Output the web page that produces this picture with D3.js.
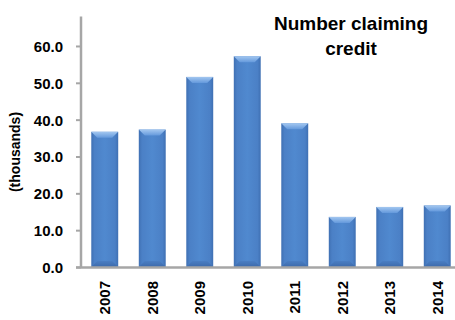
<!DOCTYPE html>
<html>
<head>
<meta charset="utf-8">
<script src="https://cdn.jsdelivr.net/npm/d3@7"></script>
<style>
  body { margin: 0; background: #fff; }
  svg text { font-family: "Liberation Sans", Arial, sans-serif; font-weight: bold; fill: #000; }
</style>
</head>
<body>
<div id="chart"></div>
<script>
var years = ["2007", "2008", "2009", "2010", "2011", "2012", "2013", "2014"];
var claimants = [36.7, 37.3, 51.6, 57.2, 39.0, 13.6, 16.3, 16.7];
var yTicks = [0, 10, 20, 30, 40, 50, 60];
var titleLines = ["Number claiming", "credit"];
var yTitle = "(thousands)";

var width = 455, height = 320;

var svg = d3.select("#chart").append("svg")
  .attr("width", width)
  .attr("height", height);

var defs = svg.append("defs");

var bodyGrad = defs.append("linearGradient").attr("id", "body")
  .attr("x1", 0).attr("x2", 1).attr("y1", 0).attr("y2", 0);
bodyGrad.append("stop").attr("offset", "0").attr("stop-color", "#3f70b3");
bodyGrad.append("stop").attr("offset", "0.12").attr("stop-color", "#4b80c6");
bodyGrad.append("stop").attr("offset", "0.5").attr("stop-color", "#5089cf");
bodyGrad.append("stop").attr("offset", "0.88").attr("stop-color", "#4b80c6");
bodyGrad.append("stop").attr("offset", "1").attr("stop-color", "#3f70b3");

var topGrad = defs.append("linearGradient").attr("id", "topBevel")
  .attr("x1", 0).attr("x2", 0).attr("y1", 0).attr("y2", 1);
topGrad.append("stop").attr("offset", "0").attr("stop-color", "#a3c7f0");
topGrad.append("stop").attr("offset", "1").attr("stop-color", "#6499dc");

var bottomGrad = defs.append("linearGradient").attr("id", "bottomBevel")
  .attr("x1", 0).attr("x2", 0).attr("y1", 0).attr("y2", 1);
bottomGrad.append("stop").attr("offset", "0").attr("stop-color", "#4a7ec3");
bottomGrad.append("stop").attr("offset", "1").attr("stop-color", "#3d6aab");

var x = d3.scaleBand()
  .domain(years)
  .range([81, 461])
  .paddingInner(0.433)
  .paddingOuter(0.2165);

var y = d3.scaleLinear()
  .domain([0, 68])
  .range([267, 16.5]);

// y axis
var yAxis = d3.axisLeft(y)
  .tickValues(yTicks)
  .tickFormat(d3.format(".1f"))
  .tickSize(5)
  .tickPadding(13);

var yG = svg.append("g")
  .attr("transform", "translate(81,0)")
  .call(yAxis);
yG.select(".domain").remove();
yG.selectAll(".tick line").attr("stroke", "#a6a6a6").attr("stroke-width", 2);
yG.selectAll(".tick text")
  .style("font-size", "15px")
  .attr("dy", "0.36em");

svg.append("line")
  .attr("x1", 81).attr("x2", 81)
  .attr("y1", y(68)).attr("y2", y(0) + 1)
  .attr("stroke", "#a6a6a6").attr("stroke-width", 2.5);

// bars
var b = 6;
var bars = svg.selectAll("g.bar")
  .data(years.map((yr, i) => ({year: yr, value: claimants[i]})))
  .enter().append("g")
  .attr("class", "bar");

bars.append("rect")
  .attr("x", d => x(d.year))
  .attr("y", d => y(d.value))
  .attr("width", x.bandwidth())
  .attr("height", d => y(0) - y(d.value))
  .attr("fill", "url(#body)");

bars.append("path")
  .attr("fill", "url(#topBevel)")
  .attr("d", d => {
    var x0 = x(d.year), x1 = x0 + x.bandwidth(), t = y(d.value);
    return "M" + x0 + "," + t + "L" + x1 + "," + t + "L" + (x1 - b) + "," + (t + b) +
      "L" + (x0 + b) + "," + (t + b) + "Z";
  });

bars.append("path")
  .attr("fill", "url(#bottomBevel)")
  .attr("d", d => {
    var x0 = x(d.year), x1 = x0 + x.bandwidth(), z = y(0);
    return "M" + x0 + "," + z + "L" + x1 + "," + z + "L" + (x1 - b) + "," + (z - b) +
      "L" + (x0 + b) + "," + (z - b) + "Z";
  });

// x axis
svg.append("line")
  .attr("x1", 76).attr("x2", 461)
  .attr("y1", y(0) + 0.5).attr("y2", y(0) + 0.5)
  .attr("stroke", "#a6a6a6").attr("stroke-width", 2.5);

svg.append("g").selectAll("text")
  .data(years)
  .enter().append("text")
  .attr("transform", d => "translate(" + (x(d) + x.bandwidth() / 2) + ",281) rotate(-90)")
  .attr("dy", "0.36em")
  .attr("text-anchor", "end")
  .style("font-size", "15px")
  .text(d => d);

// y title
svg.append("text")
  .attr("transform", "translate(20,152) rotate(-90)")
  .attr("text-anchor", "middle")
  .style("font-size", "14px")
  .text(yTitle);

// chart title
svg.append("g").selectAll("text")
  .data(titleLines)
  .enter().append("text")
  .attr("x", 351)
  .attr("y", (d, i) => 29.5 + i * 25.5)
  .attr("text-anchor", "middle")
  .style("font-size", "19px")
  .text(d => d);
</script>
</body>
</html>
